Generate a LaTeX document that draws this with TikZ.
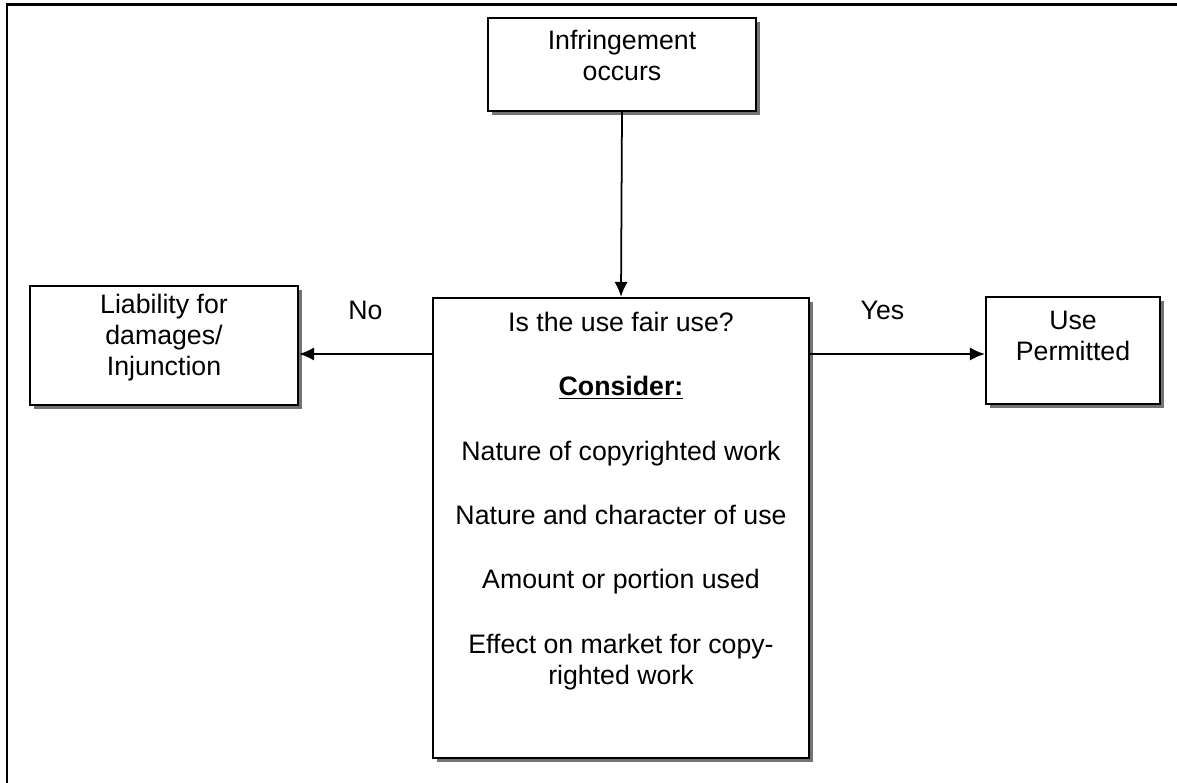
\documentclass[tikz,border=0pt]{standalone}
\usepackage{fontspec}
\setmainfont{Liberation Sans}
\usepackage{tikz}
\usetikzlibrary{positioning}
\usetikzlibrary{shadows}
\usetikzlibrary{arrows.meta}
\tikzset{
  box/.style={draw,line width=1.3pt,fill=white,
    drop shadow={shadow xshift=0.08cm,shadow yshift=-0.08cm,fill=black!55,opacity=1}},
  txt/.style={align=center,inner sep=0pt,font=\fontsize{15.2}{17.6}\selectfont},
  lbl/.style={inner sep=0pt,font=\fontsize{15.2}{17.6}\selectfont}
}

\begin{document}
\begin{tikzpicture}[x=0.02cm,y=-0.02cm,>={Latex[length=8.5pt,width=7.5pt]}]
\useasboundingbox (0,0) rectangle (1177,783);
\draw[line width=1.7pt](7,783)--(7,5)--(1177,5);
% boxes
\node[box,minimum width=5.36cm,minimum height=1.86cm](occ) at (622,64.5){};
\node[txt,below=0.26cm of occ.north](occtxt){Infringement\\occurs};
\node[box,minimum width=5.36cm,minimum height=2.38cm](liab) at (164,345.5){};
\node[txt,below=0.18cm of liab.north](liabtxt){Liability for\\damages/\\Injunction};
\node[box,minimum width=3.48cm,minimum height=2.14cm](perm) at (1073,350.5){};
\node[txt,below=0.3cm of perm.north](permtxt){Use\\Permitted};
\node[box,minimum width=7.52cm,minimum height=9.2cm](fair) at (621,528){};
\node[txt,below=0.3cm of fair.north](fairtxt){Is the use fair use?\\[19pt]
  \underline{\textbf{Consider:}}\\[19pt]
  Nature of copyrighted work\\[19pt]
  Nature and character of use\\[19pt]
  Amount or portion used\\[19pt]
  Effect on market for copy-\\righted work};
% arrows
\coordinate(arr) at (0,354);
\draw[->,line width=1pt](occ.south)--(fair.north);
\draw[->,line width=1pt](fair.west|-arr)--node[lbl,above=0.66cm]{No}(liab.east|-arr);
\draw[->,line width=1pt](fair.east|-arr)--node[lbl,above=0.66cm,xshift=-0.3cm]{Yes}(perm.west|-arr);
\end{tikzpicture}
\end{document}
